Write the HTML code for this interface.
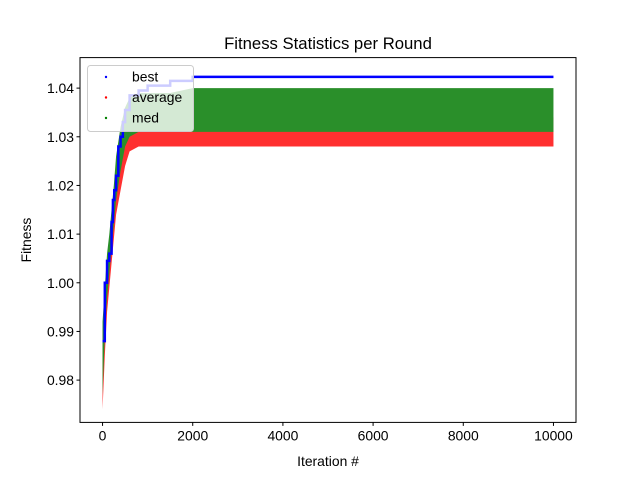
<!DOCTYPE html>
<html><head><meta charset="utf-8"><style>
body{margin:0;background:#fff;}
svg{display:block;font-family:"Liberation Sans","DejaVu Sans",sans-serif;}
</style></head><body>
<svg id="chart" width="640" height="480">
<rect width="640" height="480" fill="#fff"/>
<text x="328" y="49" font-size="16.7" text-anchor="middle">Fitness Statistics per Round</text>
<g id="bands"></g>
<g id="axes"></g>
</svg>
<script>
const iters = [0,50,100,150,200,250,300,400,500,600,800,1000,1500,2000,4000,6000,8000,10000];
const avgLo = [0.974,0.985,0.994,0.999,1.004,1.009,1.014,1.019,1.024,1.027,1.028,1.028,1.028,1.028,1.028,1.028,1.028,1.028];
const avgHi = [0.990,0.996,1.003,1.008,1.013,1.017,1.022,1.028,1.031,1.033,1.034,1.034,1.034,1.034,1.034,1.034,1.034,1.034];
const medLo = [0.977,0.989,0.997,1.002,1.007,1.012,1.017,1.023,1.028,1.030,1.031,1.031,1.031,1.031,1.031,1.031,1.031,1.031];
const medHi = [0.992,0.999,1.006,1.010,1.015,1.020,1.026,1.032,1.036,1.038,1.039,1.039,1.039,1.040,1.040,1.040,1.040,1.040];
const bestIt = [0,50,100,150,200,230,260,300,350,400,450,500,600,800,1000,1500,2000,10000];
const bestVal = [0.988,1.000,1.0045,1.006,1.0125,1.017,1.019,1.022,1.028,1.030,1.033,1.0355,1.0385,1.0395,1.0405,1.0415,1.0423,1.0423];
const xTicks = [0,2000,4000,6000,8000,10000];
const yTicks = [0.98,0.99,1.00,1.01,1.02,1.03,1.04];

const L=80,R=576,T=57.6,B=422.4;
const xMin=-500,xMax=10500,yMin=0.97131,yMax=1.04627;
const X=v=>L+(v-xMin)/(xMax-xMin)*(R-L);
const Y=v=>B-(v-yMin)/(yMax-yMin)*(B-T);
const NS="http://www.w3.org/2000/svg";
function mk(tag,attrs,parent){const e=document.createElementNS(NS,tag);for(const k in attrs)e.setAttribute(k,attrs[k]);parent.appendChild(e);return e;}
const bands=document.getElementById('bands'), axes=document.getElementById('axes');

function band(lo,hi,color,op,name){
  let pts=iters.map((t,i)=>X(t)+','+Y(hi[i]));
  for(let i=iters.length-1;i>=0;i--)pts.push(X(iters[i])+','+Y(lo[i]));
  const p=mk('polygon',{points:pts.join(' '),fill:color,'fill-opacity':op},bands);
  
  
}
band(avgLo,avgHi,'#ff1a1a',0.9,'average-band');
band(medLo,medHi,'#2a8f2a',1,'med-band');

let d='';
bestIt.forEach((t,i)=>{d+=(i?'L':'M')+X(t)+','+Y(bestVal[i]);if(i<bestIt.length-1)d+='L'+X(bestIt[i+1])+','+Y(bestVal[i]);});
const bl=mk('path',{d:d,fill:'none',stroke:'#0000ff','stroke-width':2.5},bands);



const fr=mk('rect',{x:L,y:T,width:R-L,height:B-T,fill:'none',stroke:'#000','stroke-width':1},axes);


xTicks.forEach(v=>{
  mk('line',{x1:X(v),x2:X(v),y1:B,y2:B+3.5,stroke:'#000'},axes);
  const t=mk('text',{x:X(v),y:B+18,'font-size':13.9,'text-anchor':'middle'},axes);t.textContent=v;
  
  
});
yTicks.forEach(v=>{
  mk('line',{x1:L-3.5,x2:L,y1:Y(v),y2:Y(v),stroke:'#000'},axes);
  const t=mk('text',{x:L-6,y:Y(v)+5,'font-size':13.9,'text-anchor':'end'},axes);t.textContent=v.toFixed(2);
  
  
});
const xl=mk('text',{x:328,y:466,'font-size':13.9,'text-anchor':'middle'},axes);xl.textContent='Iteration #';


const yl=mk('text',{x:31,y:240,'font-size':13.9,'text-anchor':'middle',transform:'rotate(-90 31 240)'},axes);yl.textContent='Fitness';



const lg=mk('g',{},axes);


mk('rect',{x:87.5,y:65.5,width:106,height:66,rx:3,fill:'#fff','fill-opacity':0.8,stroke:'#ccc'},lg);
[['best','#0000ff'],['average','#ff0000'],['med','#008000']].forEach((e,i)=>{
  const y=77+i*20.5;
  mk('circle',{cx:106,cy:y,r:1.2,fill:e[1]},lg);
  const t=mk('text',{x:132,y:y+4.5,'font-size':13.9},lg);t.textContent=e[0];
  
  
});
</script>
</body></html>
